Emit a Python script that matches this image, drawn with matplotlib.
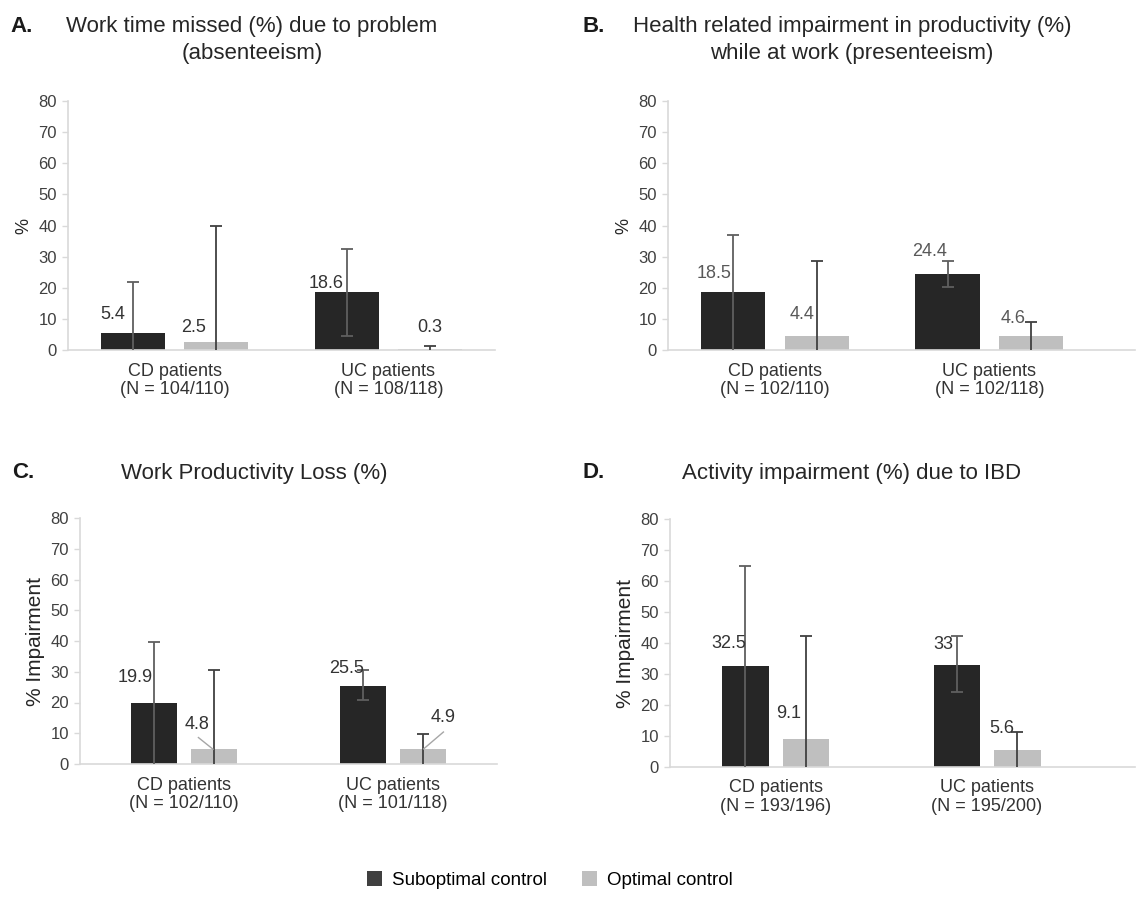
import numpy as np
import matplotlib
matplotlib.use('Agg')
import matplotlib.pyplot as plt
from matplotlib.patches import Patch

plt.rcParams['font.family'] = ['Liberation Sans', 'DejaVu Sans']

# ---- data ----
cats_A = ['CD patients\n(N = 104/110)', 'UC patients\n(N = 108/118)']
cats_B = ['CD patients\n(N = 102/110)', 'UC patients\n(N = 102/118)']
cats_C = ['CD patients\n(N = 102/110)', 'UC patients\n(N = 101/118)']
cats_D = ['CD patients\n(N = 193/196)', 'UC patients\n(N = 195/200)']

sub_A = [5.4, 18.6]
opt_A = [2.5, 0.3]
sub_A_lo, sub_A_hi = [0, 4.5], [21.7, 32.3]
opt_A_lo, opt_A_hi = [0, 0], [40.0, 1.4]

sub_B = [18.5, 24.4]
opt_B = [4.4, 4.6]
sub_B_lo, sub_B_hi = [0, 20.2], [37.1, 28.5]
opt_B_lo, opt_B_hi = [0, 0], [28.5, 8.9]

sub_C = [19.9, 25.5]
opt_C = [4.8, 4.9]
sub_C_lo, sub_C_hi = [0, 20.8], [39.8, 30.6]
opt_C_lo, opt_C_hi = [0, 0], [30.6, 9.7]

sub_D = [32.5, 33]
opt_D = [9.1, 5.6]
sub_D_lo, sub_D_hi = [0, 24.2], [64.9, 42.3]
opt_D_lo, opt_D_hi = [0, 0], [42.3, 11.3]

titles = ['Work time missed (%) due to problem\n(absenteeism)',
          'Health related impairment in productivity (%)\nwhile at work (presenteeism)',
          'Work Productivity Loss (%)',
          'Activity impairment (%) due to IBD']
letters = ['A.', 'B.', 'C.', 'D.']
ylabels = ['%', '%', '% Impairment', '% Impairment']

# ---- layout (label positions: dx in category units, y in data) ----
sub_lab_A = [(-0.094, 11.3), (-0.094, 21.5)]
opt_lab_A = [(-0.108, 7.1), (0.0, 7.1)]
sub_lab_B = [(-0.089, 24.7), (-0.084, 31.6)]
opt_lab_B = [(-0.070, 11.3), (-0.084, 10.2)]
sub_lab_C = [(-0.092, 28.0), (-0.077, 30.9)]
opt_lab_C = [(-0.082, 12.7), (0.097, 15.0)]
sub_lab_D = [(-0.081, 40.0), (-0.066, 39.4)]
opt_lab_D = [(-0.081, 17.4), (-0.071, 12.3)]

DARK = '#262626'
LIGHT = '#bfbfbf'


def draw_err(ax, xpos, lo, hi, color):
    # vertical line from lo to hi, caps only where the end is above the axis
    lo = np.asarray(lo, float)
    hi = np.asarray(hi, float)
    ax.vlines(xpos, lo, hi, color=color, lw=1.3, zorder=3)
    ax.plot(xpos, hi, ls='none', marker='_', ms=9, mew=1.3, color=color, zorder=3)
    m = lo > 0
    if m.any():
        ax.plot(np.asarray(xpos)[m], lo[m], ls='none', marker='_', ms=9, mew=1.3,
                color=color, zorder=3)


fig = plt.figure(figsize=(11.37, 9.0), dpi=100)

panels = [
    dict(rect=[68, 101, 495, 350], xmax=1.5, width=0.30, off=0.195,
         cats=cats_A, sub=sub_A, opt=opt_A, slo=sub_A_lo, shi=sub_A_hi,
         olo=opt_A_lo, ohi=opt_A_hi, slab=sub_lab_A, olab=opt_lab_A,
         labcol='#333333', ylsize=13, leader=False),
    dict(rect=[668, 101, 1135, 350], xmax=1.68, width=0.30, off=0.195,
         cats=cats_B, sub=sub_B, opt=opt_B, slo=sub_B_lo, shi=sub_B_hi,
         olo=opt_B_lo, ohi=opt_B_hi, slab=sub_lab_B, olab=opt_lab_B,
         labcol='#595959', ylsize=13, leader=False),
    dict(rect=[80, 518, 497, 764], xmax=1.5, width=0.22, off=0.143,
         cats=cats_C, sub=sub_C, opt=opt_C, slo=sub_C_lo, shi=sub_C_hi,
         olo=opt_C_lo, ohi=opt_C_hi, slab=sub_lab_C, olab=opt_lab_C,
         labcol='#333333', ylsize=15, leader=True),
    dict(rect=[670, 519, 1135, 767], xmax=1.70, width=0.22, off=0.143,
         cats=cats_D, sub=sub_D, opt=opt_D, slo=sub_D_lo, shi=sub_D_hi,
         olo=opt_D_lo, ohi=opt_D_hi, slab=sub_lab_D, olab=opt_lab_D,
         labcol='#333333', ylsize=15, leader=False),
]

W, H = 1137.0, 900.0
for k, p in enumerate(panels):
    l, t, r, b = p['rect']
    ax = fig.add_axes([l / W, 1 - b / H, (r - l) / W, (b - t) / H])
    x = np.arange(len(p['cats']))
    xs = x - p['off']
    xo = x + p['off']
    sub = np.array(p['sub'])
    opt = np.array(p['opt'])
    ax.bar(xs, sub, p['width'], color=DARK, zorder=2)
    ax.bar(xo, opt, p['width'], color=LIGHT, zorder=2)
    draw_err(ax, xs, p['slo'], p['shi'], '#5f5f5f')
    draw_err(ax, xo, p['olo'], p['ohi'], '#404040')
    for i in range(len(x)):
        dx, ty = p['slab'][i]
        ax.text(xs[i] + dx, ty, f"{sub[i]:g}", ha='center', va='center',
                fontsize=13, color=p['labcol'])
        dx, ty = p['olab'][i]
        ax.text(xo[i] + dx, ty, f"{opt[i]:g}", ha='center', va='center',
                fontsize=13, color=p['labcol'])
    if p['leader']:
        # leader lines from labels to the light bars
        ax.plot([xo[0] - 0.075, xo[0] - 0.005], [8.6, opt[0]], color='#a6a6a6', lw=1, zorder=4)
        ax.plot([xo[1] + 0.10, xo[1] + 0.005], [10.4, opt[1]], color='#a6a6a6', lw=1, zorder=4)
    ax.set_xlim(-0.5, p['xmax'])
    ax.set_ylim(0, 80)
    ax.set_yticks(np.arange(0, 81, 10))
    ax.set_xticks(x)
    ax.set_xticklabels(p['cats'], fontsize=13, color='#333333', linespacing=1.15)
    ax.tick_params(axis='x', length=0, pad=9)
    ax.tick_params(axis='y', length=4, width=1, color='#d9d9d9', labelsize=12,
                   labelcolor='#404040', pad=4)
    for s in ['top', 'right']:
        ax.spines[s].set_visible(False)
    for s in ['left', 'bottom']:
        ax.spines[s].set_color('#d9d9d9')
        ax.spines[s].set_linewidth(1.2)
    ax.set_ylabel(ylabels[k], fontsize=p['ylsize'], color='#262626', labelpad=4)

# titles and panel letters
fig.text(252 / W, 1 - 40 / H, titles[0], ha='center', va='center', fontsize=16,
         color='#262626', linespacing=1.35)
fig.text(852 / W, 1 - 40 / H, titles[1], ha='center', va='center', fontsize=16,
         color='#262626', linespacing=1.35)
fig.text(254 / W, 1 - 473 / H, titles[2], ha='center', va='center', fontsize=16,
         color='#262626')
fig.text(852 / W, 1 - 473 / H, titles[3], ha='center', va='center', fontsize=16,
         color='#262626')
for lx, ly, lt in [(10, 27, letters[0]), (582, 27, letters[1]),
                   (12, 473, letters[2]), (582, 473, letters[3])]:
    fig.text(lx / W, 1 - ly / H, lt, ha='left', va='center', fontsize=16,
             fontweight='bold', color='#1a1a1a')

handles = [Patch(facecolor='#404040', label='Suboptimal control'),
           Patch(facecolor=LIGHT, label='Optimal control')]
fig.legend(handles=handles, loc='center', bbox_to_anchor=(550 / W, 1 - 880 / H),
           ncol=2, frameon=False, fontsize=13.5, handlelength=0.8, handleheight=0.8,
           handletextpad=0.5, columnspacing=1.9)

fig.savefig('out.png', dpi=100, facecolor='white')
